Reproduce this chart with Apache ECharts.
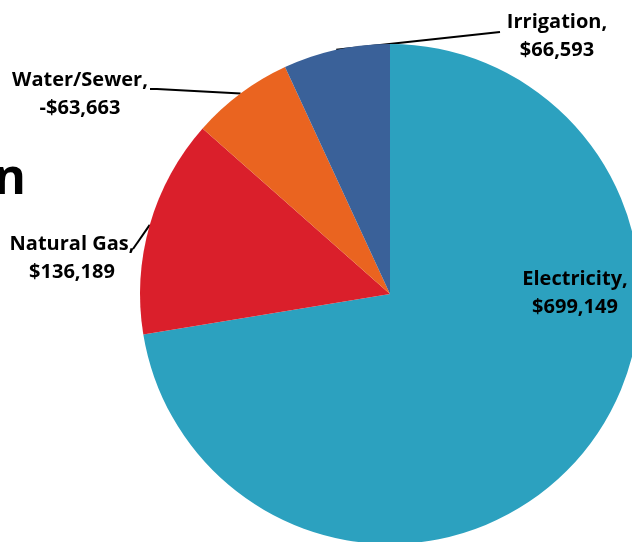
<!DOCTYPE html>
<html>
<head>
<meta charset="utf-8">
<script src="https://cdn.jsdelivr.net/npm/echarts@6/dist/echarts.min.js"></script>
<style>
  html, body { margin: 0; padding: 0; background: #ffffff; }
  #chart { width: 632px; height: 542px; }
</style>
</head>
<body>
<div id="chart"></div>
<script>
// Utility cost breakdown
const categories = ['Electricity', 'Natural Gas', 'Water/Sewer', 'Irrigation'];
const costs = [699149, 136189, -63663, 66593];
const sliceColors = ['#2CA1BF', '#DA1F2B', '#EA6420', '#3A6199'];

// where each label block sits (centre) and the bends of its leader line
const labelSpots = [
  { x: 575, y: 293, bends: [] },
  { x: 72, y: 258, bends: [[133, 249]] },
  { x: 80, y: 94, bends: [[157, 89], [150, 89]] },
  { x: 557, y: 36, bends: [[500, 32]] }
];

function money(v) {
  return (v < 0 ? '-' : '') + '$' + Math.abs(v).toLocaleString('en-US');
}

const pieData = categories.map((name, i) => ({
  name: name,
  value: Math.abs(costs[i]),
  cost: costs[i],
  itemStyle: { color: sliceColors[i] },
  labelLine: { show: labelSpots[i].bends.length > 0 }
}));

const chart = echarts.init(document.getElementById('chart'), null, { renderer: 'canvas' });

chart.setOption({
  animation: false,
  backgroundColor: '#ffffff',
  graphic: [{
    type: 'text',
    x: 26,
    y: 180,
    silent: true,
    style: {
      text: 'n',
      font: 'bold 49px "Open Sans"',
      fill: '#000000',
      align: 'right',
      verticalAlign: 'middle'
    }
  }],
  series: [{
    type: 'pie',
    center: [390, 294],
    radius: 250,
    startAngle: 90,
    clockwise: true,
    silent: true,
    avoidLabelOverlap: false,
    emphasis: { disabled: true },
    label: {
      show: true,
      position: 'outside',
      formatter: p => p.name + ',\n' + money(p.data.cost),
      fontFamily: '"Open Sans"',
      fontWeight: 'bold',
      fontSize: 20,
      lineHeight: 28,
      color: '#000000',
      align: 'center'
    },
    labelLine: {
      show: true,
      lineStyle: { color: '#000000', width: 2 }
    },
    labelLayout: function (params) {
      const spot = labelSpots[params.dataIndex];
      const out = { x: spot.x, y: spot.y, align: 'center', verticalAlign: 'middle' };
      if (spot.bends.length && params.labelLinePoints) {
        out.labelLinePoints = [params.labelLinePoints[0]].concat(spot.bends);
      }
      return out;
    },
    data: pieData
  }]
});
</script>
</body>
</html>
